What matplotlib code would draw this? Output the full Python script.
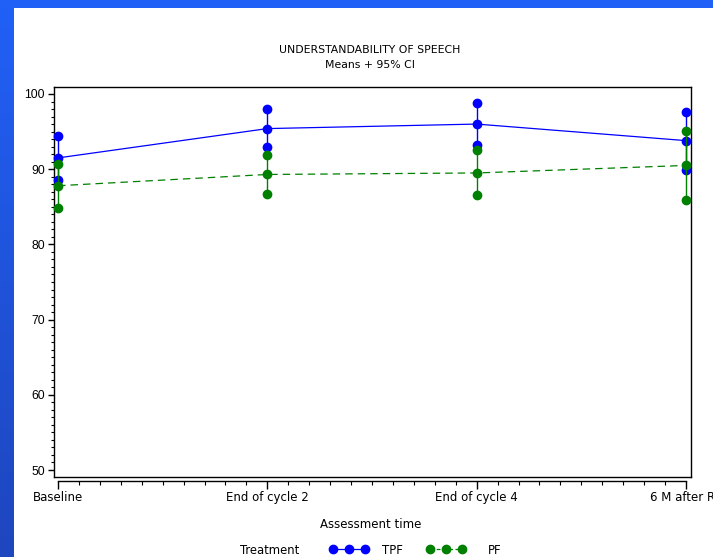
import numpy as np
import matplotlib
matplotlib.use("Agg")
import matplotlib.pyplot as plt
from matplotlib.patches import Rectangle
from matplotlib.lines import Line2D
from matplotlib.ticker import MultipleLocator
from matplotlib.legend_handler import HandlerLine2D

# Assessment times and summary statistics (means with 95% CI bounds)
times = ["Baseline", "End of cycle 2", "End of cycle 4", "6 M after RT"]
tpf_mean = [91.5, 95.4, 96.0, 93.8]
tpf_lo = [88.5, 92.9, 93.2, 89.9]
tpf_hi = [94.4, 98.0, 98.8, 97.6]
pf_mean = [87.8, 89.3, 89.5, 90.5]
pf_lo = [84.8, 86.7, 86.6, 85.9]
pf_hi = [90.7, 91.9, 92.5, 95.1]
groups = ["TPF", "PF"]

W, H = 713, 557
fig = plt.figure(figsize=(W / 100, H / 100), dpi=100)
fig.patch.set_facecolor("white")

# Blue frame bands along the top and left edges
fig.patches.append(Rectangle((0, 1 - 8 / H), 1, 8 / H, transform=fig.transFigure,
                             facecolor="#2160f6", edgecolor="none", zorder=0))
band = fig.add_axes([0, 0, 14 / W, 1 - 8 / H])
band.set_axis_off()
top_c = np.array([33, 96, 246]) / 255
bot_c = np.array([30, 70, 190]) / 255
t = np.linspace(0, 1, 256)[:, None]
grad = (top_c[None, :] * (1 - t) + bot_c[None, :] * t)[:, None, :]
band.imshow(grad, aspect="auto", extent=[0, 1, 0, 1])

ax = fig.add_axes([54 / W, 1 - 477 / H, 636.5 / W, 390 / H])
x = np.arange(len(times))

blue = "#0000ff"
green = "#008000"
ms = 6.0
txt = 8.5

# TPF: CI whiskers, bound markers and mean line
ax.vlines(x, tpf_lo, tpf_hi, color=blue, lw=1.0, zorder=2)
ax.plot(x, tpf_lo, "o", color=blue, ms=ms, zorder=3, clip_on=False)
ax.plot(x, tpf_hi, "o", color=blue, ms=ms, zorder=3, clip_on=False)
ax.plot(x, tpf_mean, "-o", color=blue, ms=ms, lw=0.9, zorder=3, clip_on=False)

# PF: CI whiskers, bound markers and dashed mean line
ax.vlines(x, pf_lo, pf_hi, color=green, lw=1.0, zorder=4)
ax.plot(x, pf_lo, "o", color=green, ms=ms, zorder=5, clip_on=False)
ax.plot(x, pf_hi, "o", color=green, ms=ms, zorder=5, clip_on=False)
ax.plot(x, pf_mean, "--o", color=green, ms=ms, lw=0.9, dashes=(6, 4),
        zorder=5, clip_on=False)

ax.set_xlim(-0.0191, 3.0216)
ax.set_ylim(49.07, 100.93)

for s in ["left", "right", "top"]:
    ax.spines[s].set_linewidth(1.0)
# Horizontal axis sits slightly below the frame and spans the data range
ax.spines["bottom"].set_position(("outward", 3))
ax.spines["bottom"].set_bounds(0, 3)
ax.spines["bottom"].set_linewidth(1.0)
ax.add_line(Line2D([0, 1], [0, 0], transform=ax.transAxes, color="black",
                   lw=1.0, clip_on=False))

ax.set_xticks(x)
ax.set_xticklabels(times, family="DejaVu Sans", fontsize=txt)
ax.xaxis.set_minor_locator(MultipleLocator(0.1))
ax.set_yticks([50, 60, 70, 80, 90, 100])
ax.set_yticklabels(["50", "60", "70", "80", "90", "100"],
                   family="Liberation Sans", fontsize=8.8)
ax.yaxis.set_minor_locator(MultipleLocator(1))
ax.tick_params(axis="x", which="major", length=5.5, width=1.0, pad=1.5)
ax.tick_params(axis="x", which="minor", length=3, width=0.8)
ax.tick_params(axis="y", which="major", length=4.5, width=1.0, pad=2)
ax.tick_params(axis="y", which="minor", length=2.5, width=0.8)

fig.text(370 / W, 1 - 50 / H, "UNDERSTANDABILITY OF SPEECH", ha="center",
         va="center", family="DejaVu Sans", fontsize=7.8)
fig.text(370 / W, 1 - 65 / H, "Means + 95% CI", ha="center", va="center",
         family="DejaVu Sans", fontsize=7.8)
fig.text(371 / W, 1 - 524 / H, "Assessment time", ha="center", va="center",
         family="DejaVu Sans", fontsize=txt)
fig.text(270 / W, 1 - 550 / H, "Treatment", ha="center", va="center",
         family="DejaVu Sans", fontsize=8.4)

# Legend entries, one per treatment group
fs_px = txt * 100 / 72
handles = [
    Line2D([], [], color=blue, marker="o", ms=ms, lw=0.9),
    Line2D([], [], color=green, marker="o", ms=ms, lw=0.9, ls="--", dashes=(3, 2)),
]
starts = [333, 430]
text_gaps = [17, 26]
for h, lab, x0, gap in zip(handles, groups, starts, text_gaps):
    leg = fig.legend([h], [lab], loc="center left",
                     bbox_to_anchor=(x0 / W, 1 - 550 / H), frameon=False,
                     numpoints=3, handlelength=32 / fs_px,
                     handletextpad=gap / fs_px,
                     prop={"family": "DejaVu Sans", "size": txt},
                     borderaxespad=0, borderpad=0,
                     handler_map={Line2D: HandlerLine2D(marker_pad=0)})

fig.savefig("out.png", dpi=100)
